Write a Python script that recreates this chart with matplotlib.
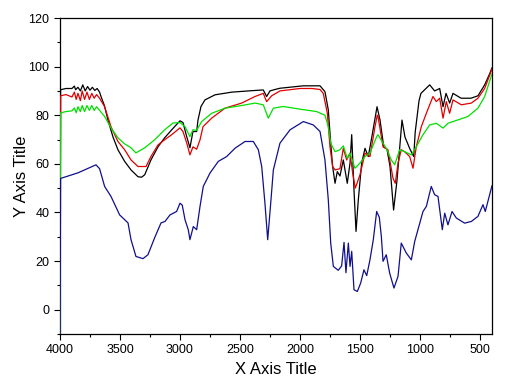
import matplotlib
matplotlib.use('Agg')
import matplotlib.pyplot as plt
from matplotlib.ticker import MultipleLocator

plt.rcParams['font.family'] = ['Liberation Sans', 'DejaVu Sans']

# wavenumber / value pairs
black_x = [4000, 3995, 3950, 3900, 3880, 3870, 3850, 3830, 3810, 3790, 3770, 3750, 3730, 3710, 3690, 3670,
           3658, 3630, 3600, 3558, 3517, 3461, 3408, 3350, 3320, 3294, 3242, 3183, 3128, 3069, 3000, 2975,
           2944, 2917, 2892, 2861, 2850, 2825, 2792, 2708, 2569, 2403, 2306, 2278, 2250, 2208, 2167, 1972,
           1833, 1792, 1764, 1744, 1728, 1708, 1689, 1667, 1639, 1606, 1583, 1569, 1550, 1533, 1514, 1486,
           1458, 1431, 1403, 1358, 1333, 1302, 1275, 1250, 1220, 1192, 1150, 1125, 1083, 1052, 1040, 1008,
           992, 919, 878, 836, 808, 783, 753, 725, 658, 575, 517, 461, 420, 400]
black_y = [-20, 90.5, 91, 91, 92, 90.5, 91.5, 90, 92.5, 90, 91.8, 90.3, 91.5, 90.2, 91, 89.5,
           87.7, 84, 78, 71, 65.8, 61, 57.5, 54.7, 54.5, 55.5, 61.6, 67, 70.7, 74, 77.7, 77,
           71.2, 66.6, 73.3, 73.3, 78, 83.6, 86.3, 88.4, 89.5, 90.1, 90.4, 87.7, 90, 90.6, 91.1, 92.1,
           92.1, 89.7, 82.2, 68.5, 58.9, 52, 56.8, 55, 61.6, 52, 60.3, 72, 49.3, 32.2, 45.2, 60.3,
           66.4, 63, 70.6, 83.5, 78, 67, 66, 59, 41, 53, 78, 71, 66, 63, 73, 86,
           89, 92.5, 90, 91, 83.5, 89, 85, 89, 87, 87, 88, 92.5, 97, 99.5]

red_x = [4000, 3995, 3950, 3900, 3880, 3865, 3850, 3830, 3815, 3795, 3775, 3755, 3735, 3715, 3695, 3670,
         3628, 3575, 3517, 3461, 3408, 3350, 3283, 3242, 3183, 3128, 3069, 3000, 2975, 2944, 2917, 2892,
         2861, 2833, 2808, 2736, 2625, 2486, 2375, 2306, 2278, 2236, 2167, 2000, 1900, 1833, 1806, 1772,
         1750, 1728, 1708, 1667, 1639, 1611, 1583, 1561, 1539, 1500, 1458, 1417, 1375, 1356, 1350, 1308,
         1267, 1225, 1206, 1183, 1156, 1128, 1086, 1058, 1031, 989, 947, 892, 864, 836, 808, 781,
         753, 725, 656, 572, 517, 461, 400]
red_y = [-20, 88, 88.5, 87.5, 89.5, 86.5, 89, 86, 90, 86.5, 89.5, 86.5, 89, 87, 88.5, 87,
         83.5, 75.3, 69.2, 65.8, 61.6, 58.9, 58.9, 63, 67.8, 69.9, 72, 74.8, 73.3, 68.6, 63.7, 67,
         66, 69.9, 75.3, 78.8, 82.9, 85, 87.7, 89, 85.6, 88, 90, 91, 91, 90.6, 89, 80.8,
         67, 58.9, 57.5, 58, 66.4, 61.6, 64.4, 56.2, 50, 55.5, 64.4, 63, 75.3, 80, 79.5, 67,
         65.8, 54.1, 52, 60.3, 65.8, 65, 63, 58.2, 67, 75.3, 80.8, 87.7, 85.6, 87, 78.8, 85.6,
         80.8, 86.3, 84.3, 85, 87, 91, 99]

green_x = [4000, 3995, 3950, 3900, 3880, 3865, 3850, 3830, 3815, 3795, 3775, 3755, 3735, 3715, 3695, 3670,
           3628, 3575, 3517, 3461, 3408, 3367, 3294, 3211, 3128, 3058, 3000, 2958, 2917, 2892, 2861, 2819,
           2736, 2625, 2486, 2375, 2306, 2264, 2222, 2139, 2000, 1861, 1792, 1764, 1744, 1708, 1667, 1639,
           1606, 1583, 1542, 1500, 1458, 1417, 1361, 1350, 1308, 1281, 1239, 1211, 1169, 1128, 1072, 1031,
           975, 919, 864, 808, 767, 683, 600, 517, 461, 400]
green_y = [-20, 81, 81.5, 81.8, 83, 81, 83.5, 81.5, 84, 81.5, 84, 82, 84, 82, 83.5, 82,
           79.5, 74.8, 70.7, 68.2, 66.6, 64.5, 66.6, 69.9, 74, 76.8, 77, 75.3, 71.2, 74, 73.8, 77.4,
           80.8, 82.9, 84, 85, 84.3, 78.8, 82.9, 83.6, 82.5, 81.5, 80, 75.3, 68.5, 65, 65.8, 67.4,
           62.3, 64.4, 58.2, 60.3, 63, 64.4, 71.2, 72, 68.5, 66.4, 61.6, 59.6, 65.8, 65, 63.7, 67,
           72, 76, 76.7, 74.7, 76.7, 78.1, 79.5, 82.9, 87.7, 97]

blue_x = [4000, 3995, 3850, 3700, 3670, 3628, 3575, 3503, 3433, 3408, 3367, 3308, 3267, 3211, 3158, 3125,
          3083, 3028, 3000, 2981, 2958, 2931, 2917, 2889, 2861, 2833, 2806, 2750, 2681, 2611, 2542, 2458,
          2389, 2347, 2319, 2292, 2269, 2242, 2222, 2167, 2083, 1972, 1889, 1833, 1792, 1764, 1744, 1722,
          1681, 1653, 1633, 1617, 1597, 1583, 1569, 1550, 1522, 1494, 1467, 1444, 1417, 1389, 1361, 1339,
          1322, 1308, 1281, 1253, 1217, 1183, 1156, 1114, 1072, 1044, 1017, 975, 947, 906, 878, 850,
          814, 794, 767, 733, 697, 628, 572, 517, 475, 456, 400]
blue_y = [-20, 54, 56.3, 59.6, 58, 50.7, 46.6, 39, 35.7, 28.8, 21.9, 21, 22.6, 29.6, 35.7, 36.3,
          39, 40.4, 43.8, 43, 37, 32.9, 28.8, 34.2, 32.9, 42.5, 50.7, 56.2, 61, 63, 66.4, 69.2,
          69.2, 65.8, 58.9, 43.8, 28.8, 45, 57.5, 68.5, 74, 77.4, 76, 73.3, 61.6, 45.2, 27.4, 17.8,
          16.2, 18, 27.7, 15.2, 27.4, 17.8, 24, 8.2, 7.5, 11, 16.4, 14, 20.5, 28.8, 40.4, 38,
          30.1, 19.9, 22.6, 15.1, 8.9, 13.7, 27.4, 23.3, 20.5, 28.1, 32.9, 40.4, 42.5, 50.7, 47.3, 46.6,
          32.9, 39.7, 34.9, 40.4, 37.7, 35.6, 36.3, 38.4, 43.2, 40.4, 51]

fig = plt.figure(figsize=(5.07, 3.8), dpi=100)
ax = fig.add_axes([0.1183, 0.1211, 0.8521, 0.8315])

ax.plot(black_x, black_y, color='black', lw=0.9, zorder=3)
ax.plot(red_x, red_y, color='#e00000', lw=0.9, zorder=3)
ax.plot(green_x, green_y, color='#00e000', lw=0.9, zorder=3)
ax.plot(blue_x, blue_y, color='#10108c', lw=0.9, zorder=3)

ax.set_xlim(4000, 400)
ax.set_ylim(-10, 120)
ax.xaxis.set_major_locator(MultipleLocator(500))
ax.xaxis.set_minor_locator(MultipleLocator(250))
ax.yaxis.set_major_locator(MultipleLocator(20))
ax.yaxis.set_minor_locator(MultipleLocator(10))
ax.tick_params(which='major', direction='out', length=4, width=0.8, labelsize=9)
ax.tick_params(which='minor', direction='out', length=2.5, width=0.8)
for s in ax.spines.values():
    s.set_linewidth(0.9)

ax.set_xlabel('X Axis Title', fontsize=12, labelpad=4)
ax.set_ylabel('Y Axis Title', fontsize=12, labelpad=0)

plt.savefig('out.png', dpi=100)
